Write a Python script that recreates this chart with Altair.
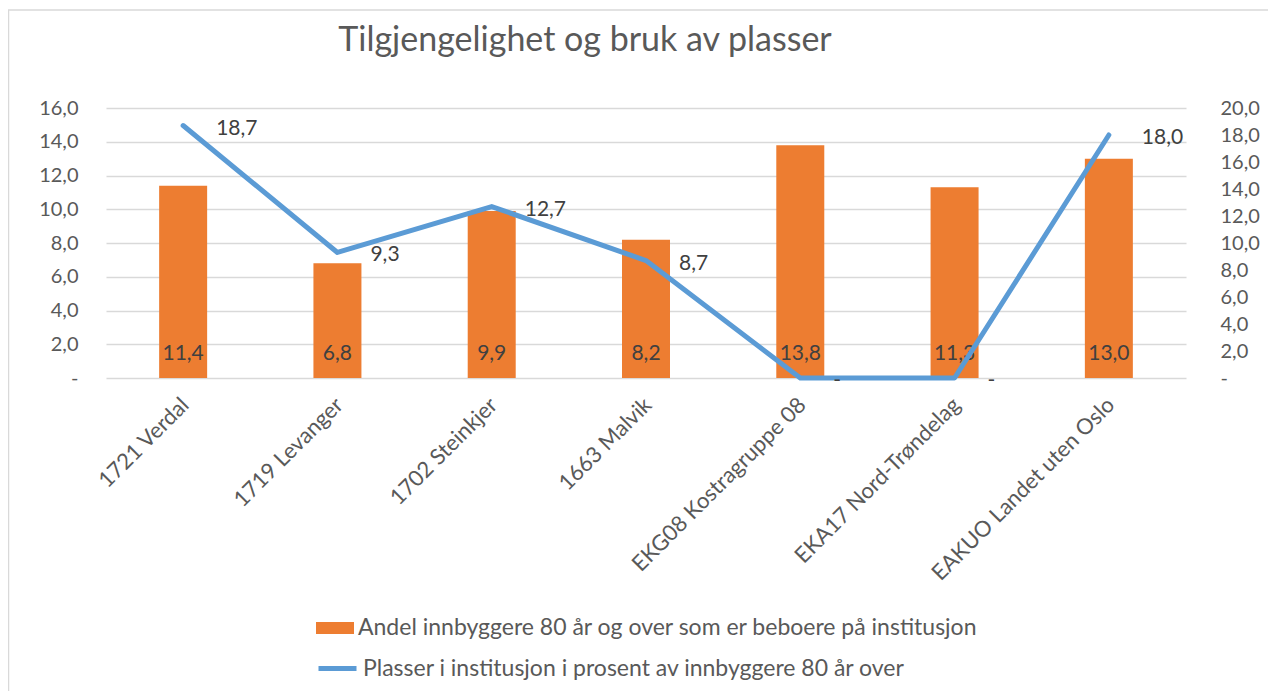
import altair as alt
import pandas as pd

categories = ["1721 Verdal", "1719 Levanger", "1702 Steinkjer", "1663 Malvik",
              "EKG08 Kostragruppe 08", "EKA17 Nord-Trøndelag", "EAKUO Landet uten Oslo"]
andel = [11.4, 6.8, 9.9, 8.2, 13.8, 11.3, 13.0]
plasser = [18.7, 9.3, 12.7, 8.7, 0.0, 0.0, 18.0]
serie_bar = "Andel innbyggere 80 år og over som er beboere på institusjon"
serie_line = "Plasser i institusjon i prosent av innbyggere 80 år over"
left_ticks = [0, 2, 4, 6, 8, 10, 12, 14, 16]
right_ticks = [0, 2, 4, 6, 8, 10, 12, 14, 16, 18, 20]

df = pd.DataFrame({"kommune": categories, "andel": andel, "plasser": plasser,
                   "s1": serie_bar, "s2": serie_line})

FONT = "Lato"
TXT = "#595959"
LAB = "#404040"
lblexpr = "datum.value == 0 ? '-' : replace(format(datum.value, '.1f'), '.', ',')"

base = alt.Chart(df).encode(
    x=alt.X("kommune:N", sort=categories,
            scale=alt.Scale(paddingInner=0, paddingOuter=0),
            axis=alt.Axis(title=None, labelAngle=-45, labelFontSize=22, labelFont=FONT,
                          labelColor=TXT, ticks=False, domain=False, grid=False,
                          labelPadding=16, labelOffset=-5, labelLimit=400))
)

left_axis = alt.Axis(title=None, values=left_ticks, labelExpr=lblexpr, ticks=False,
                     domain=False, grid=True, gridColor="#D9D9D9", gridWidth=1.5,
                     labelOverlap=False, tickCount=9,
                     labelFontSize=20, labelFont=FONT, labelColor=TXT, labelPadding=28)
right_axis = alt.Axis(title=None, orient="right", values=right_ticks, labelExpr=lblexpr,
                      ticks=False, domain=False, grid=False, labelAlign="left",
                      labelOverlap=False, tickCount=11,
                      labelFontSize=20, labelFont=FONT, labelColor=TXT, labelPadding=34)
left_scale = alt.Scale(domain=[0, 16])
right_scale = alt.Scale(domain=[0, 20])

yl = alt.Y("andel:Q", scale=left_scale, axis=left_axis)
yr = alt.Y("plasser:Q", scale=right_scale, axis=right_axis)

lab_expr_v = "datum.{f} == 0 ? '-' : replace(format(datum.{f}, '.1f'), '.', ',')"

bars = base.mark_bar(width=48).encode(
    y=yl,
    color=alt.Color("s1:N", scale=alt.Scale(range=["#ED7D31"]),
                    legend=alt.Legend(title=None, orient="none", legendX=210, legendY=501,
                                      labelFontSize=23, labelFont=FONT, labelColor=TXT,
                                      symbolType="M-1,-0.32H1V0.32H-1Z", symbolSize=1444,
                                      symbolStrokeWidth=0, labelOffset=4, labelLimit=900))
)
# bar labels sit at the base of the bars
bar_labels = base.transform_calculate(
    lab=lab_expr_v.format(f="andel"), zero="0"
).mark_text(fontSize=21, font=FONT, color=LAB, baseline="middle", dy=-24).encode(
    y=alt.Y("zero:Q", scale=left_scale, axis=left_axis),
    text="lab:N"
)

line = base.mark_line(strokeWidth=5, strokeJoin="round", strokeCap="round").encode(
    y=yr,
    stroke=alt.Stroke("s2:N", scale=alt.Scale(range=["#5B9BD5"]),
                      legend=alt.Legend(title=None, orient="none", legendX=210, legendY=539,
                                        labelFontSize=23, labelFont=FONT, labelColor=TXT,
                                        symbolType="stroke", symbolSize=1444,
                                        symbolStrokeWidth=5, labelOffset=4, labelLimit=900))
)
line_labels = base.transform_calculate(
    lab=lab_expr_v.format(f="plasser")
).mark_text(fontSize=21, font=FONT, color=LAB, align="left", baseline="middle",
            dx=33, dy=3).encode(
    y=yr,
    text="lab:N"
)

border = alt.Chart(pd.DataFrame({"a": [0]})).mark_rect(
    fill=None, stroke="#D9D9D9", strokeWidth=1.5
).encode(x=alt.value(-97.5), x2=alt.value(1167), y=alt.value(-98), y2=alt.value(600))

left = alt.layer(bars, bar_labels)
right = alt.layer(line, line_labels)

chart = alt.layer(border, left, right).resolve_scale(
    y="independent", color="independent", stroke="independent"
).properties(
    width=1080, height=270,
    autosize=alt.AutoSizeParams(type="none"),
    padding={"left": 98, "top": 100, "right": 82, "bottom": 313},
    title=alt.Title("Tilgjengelighet og bruk av plasser", fontSize=34, font=FONT,
                    color=TXT, fontWeight="normal", anchor="middle", dx=-61, offset=-49)
).configure_view(stroke=None)

chart.save("out.html", embed_options={"renderer": "svg", "actions": False})
